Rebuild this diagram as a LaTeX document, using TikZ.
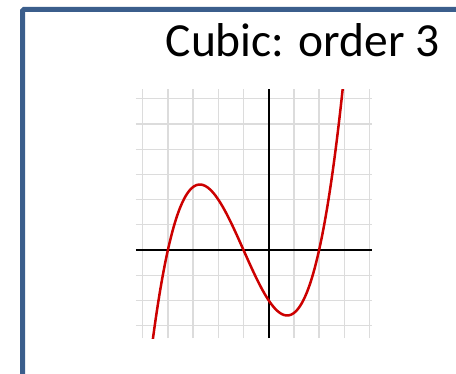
\documentclass[tikz,border=0pt]{standalone}
\usepackage{fontspec}
\setmainfont{Carlito}
\definecolor{frameblue}{RGB}{59,94,140}
\definecolor{gridgray}{RGB}{220,220,220}
\definecolor{curvered}{RGB}{204,0,0}
\tikzset{
  gridline/.style={draw=gridgray, line width=1.3pt},
  axisline/.style={draw=black, line width=1.9pt},
  curveline/.style={draw=curvered, line width=2.5pt, line join=round},
  titletext/.style={font=\fontsize{47.5}{50}\selectfont, inner sep=0pt, anchor=base west}
}
\begin{document}
\begin{tikzpicture}[x=1pt,y=1pt]
\useasboundingbox (0,0) rectangle (456,374);
\begin{scope}
\clip (0,0) rectangle (456,374);
\draw[frameblue, line width=5pt, rounded corners=1.5pt] (22.5,-20) -- (22.5,364.5) -- (480,364.5);
\end{scope}
\node[titletext] (title) at (165.5,317) {Cubic: order 3};
\begin{scope}[shift={(268.7,124)}, x=25.2pt, y=25.2pt]
  \foreach \i in {-5,...,4} \draw[gridline] (\i,-3.5) -- (\i,6.38);
  \foreach \j in {-3,...,6} \draw[gridline] (-5.27,\j) -- (4.09,\j);
  \draw[axisline] (-5.27,0) -- (4.09,0);
  \draw[axisline] (0,-3.5) -- (0,6.38);
  \begin{scope}
    \clip (-5.27,-3.5) rectangle (4.09,6.38);
    \draw[curveline] plot[domain=-4.65:2.98, samples=120, smooth] (\x,{0.25*(\x+4)*(\x+1)*(\x-2)});
  \end{scope}
\end{scope}
\end{tikzpicture}
\end{document}
